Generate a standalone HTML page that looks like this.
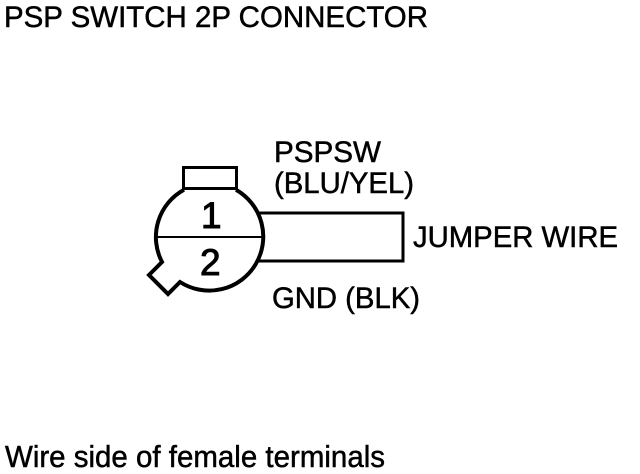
<!DOCTYPE html>
<html>
<head>
<meta charset="utf-8">
<style>
html,body{margin:0;padding:0;background:#fff}
svg{display:block}
text{font-family:"Liberation Sans",Arial,sans-serif;font-size:30px;fill:#000;stroke:#000;stroke-width:.5px}
</style>
</head>
<body>
<svg width="640" height="474" viewBox="0 0 640 474" xmlns="http://www.w3.org/2000/svg">
<rect width="640" height="474" fill="#fff"/>
<text x="4" y="27" textLength="424" lengthAdjust="spacingAndGlyphs">PSP SWITCH 2P CONNECTOR</text>
<text x="274" y="162" textLength="107" lengthAdjust="spacingAndGlyphs">PSPSW</text>
<text x="274" y="193" textLength="140" lengthAdjust="spacingAndGlyphs">(BLU/YEL)</text>
<text x="413" y="247" textLength="205" lengthAdjust="spacingAndGlyphs">JUMPER WIRE</text>
<text x="272" y="308" textLength="148" lengthAdjust="spacingAndGlyphs">GND (BLK)</text>
<text x="5" y="467" textLength="380" lengthAdjust="spacingAndGlyphs" style="font-size:31px">Wire side of female terminals</text>
<text x="201" y="228" style="font-size:37px;stroke-width:1px">1</text>
<text x="200" y="275" style="font-size:37px;stroke-width:1px">2</text>
<path d="M258 213H403V261H258" fill="none" stroke="#000" stroke-width="3"/>
<rect x="183.500" y="167.500" width="53" height="21" fill="none" stroke="#000" stroke-width="3"/>
<path d="M184 189.700A54 54 0 0 0 162 262L149 275L168 294L180 282A54 54 0 1 0 236 189.700" fill="none" stroke="#000" stroke-width="4"/>
<path d="M156 237H264" stroke="#000" stroke-width="2" fill="none"/>
</svg>
</body>
</html>
